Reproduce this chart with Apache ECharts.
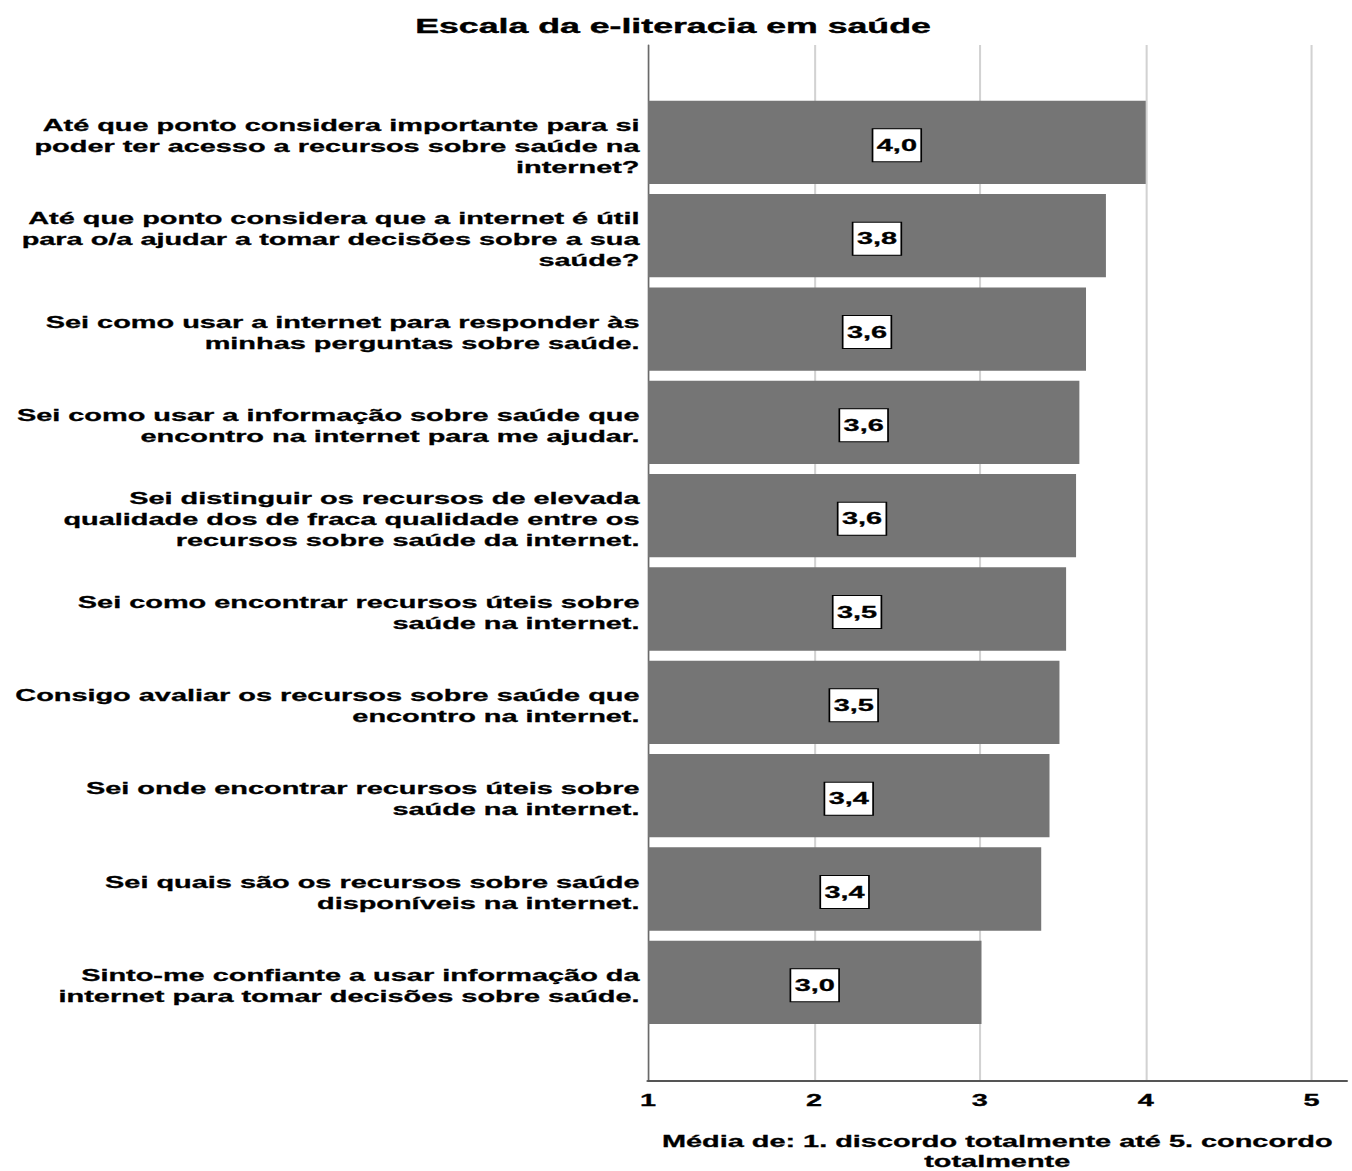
<!DOCTYPE html>
<html>
<head>
<meta charset="utf-8">
<script src="https://cdn.jsdelivr.net/npm/echarts@6/dist/echarts.min.js"></script>
<style>
html, body { margin: 0; padding: 0; background: #fff; overflow: hidden; }
#wrap { width: 1352px; height: 1171px; overflow: hidden; position: relative; }
#chart { position: absolute; left: 0; top: 0; height: 1171px; transform-origin: 0 0; }
</style>
</head>
<body>
<div id="wrap"><div id="chart"></div></div>
<script>
const chartTitle = 'Escala da e-literacia em saúde';
const axisTitle = 'Média de: 1. discordo totalmente até 5. concordo\ntotalmente';
const categories = [
  'Até que ponto considera importante para si\npoder ter acesso a recursos sobre saúde na\ninternet?',
  'Até que ponto considera que a internet é útil\npara o/a ajudar a tomar decisões sobre a sua\nsaúde?',
  'Sei como usar a internet para responder às\nminhas perguntas sobre saúde.',
  'Sei como usar a informação sobre saúde que\nencontro na internet para me ajudar.',
  'Sei distinguir os recursos de elevada\nqualidade dos de fraca qualidade entre os\nrecursos sobre saúde da internet.',
  'Sei como encontrar recursos úteis sobre\nsaúde na internet.',
  'Consigo avaliar os recursos sobre saúde que\nencontro na internet.',
  'Sei onde encontrar recursos úteis sobre\nsaúde na internet.',
  'Sei quais são os recursos sobre saúde\ndisponíveis na internet.',
  'Sinto-me confiante a usar informação da\ninternet para tomar decisões sobre saúde.'
];
const means = [4.00, 3.76, 3.64, 3.60, 3.58, 3.52, 3.48, 3.42, 3.37, 3.01];
const axisMin = 1;
const axisMax = 5.21;
const axisInterval = 1;

// The reference picture is horizontally stretched; reproduce via a horizontal scale.
const S = 1.7;
const el = document.getElementById('chart');
const W = 1352 / S;
el.style.width = W + 'px';
el.style.transform = 'scaleX(' + S + ')';

const font = 'Liberation Sans, Arial, sans-serif';
const px = v => v / S;
const gl = px(648), gr = W - px(1347);
const labelShift = 3.5;

const chart = echarts.init(el, null, { renderer: 'svg' });
chart.setOption({
  animation: false,
  backgroundColor: '#ffffff',
  title: {
    text: chartTitle,
    left: px(673),
    textAlign: 'center',
    top: 15,
    padding: 0,
    textStyle: { fontFamily: font, fontWeight: 'bold', fontSize: 21, color: '#000',
                 textBorderColor: '#000', textBorderWidth: 0.4 }
  },
  grid: [
    { left: gl, right: gr, top: 45, bottom: 1171 - 1080.7, containLabel: false, outerBoundsMode: 'none' },
    { left: gl, right: gr, top: 95.7, bottom: 1171 - 1029, containLabel: false, outerBoundsMode: 'none' },
    { left: gl, right: gr, top: 95.7 + labelShift, bottom: 1171 - 1029 - labelShift, containLabel: false, outerBoundsMode: 'none' }
  ],
  xAxis: [
    {
      gridIndex: 0, type: 'value', min: axisMin, max: axisMax, interval: axisInterval,
      axisLine: { show: true, onZero: false, lineStyle: { color: '#555', width: 2 } },
      axisTick: { show: false },
      splitLine: { show: true, showMinLine: false, showMaxLine: false, lineStyle: { color: '#d2d2d2', width: 1.2 } },
      axisLabel: {
        margin: 11, fontFamily: font, fontWeight: 'bold', fontSize: 17, color: '#000',
        textBorderColor: '#000', textBorderWidth: 0.3,
        formatter: v => (Math.abs(v - Math.round(v)) < 1e-9 ? String(Math.round(v)) : '')
      },
      name: axisTitle,
      nameLocation: 'middle',
      nameGap: 51,
      nameTextStyle: { fontFamily: font, fontWeight: 'bold', fontSize: 17, lineHeight: 19.5, color: '#000',
                       align: 'center', verticalAlign: 'top', textBorderColor: '#000', textBorderWidth: 0.3 }
    },
    { gridIndex: 1, type: 'value', min: axisMin, max: axisMax, interval: axisInterval, show: false },
    { gridIndex: 2, type: 'value', min: axisMin, max: axisMax, interval: axisInterval, show: false }
  ],
  yAxis: [
    {
      gridIndex: 0, type: 'value', min: 0, max: 1,
      axisLine: { show: true, onZero: false, lineStyle: { color: '#6a6a6a', width: 1 } },
      axisTick: { show: false }, axisLabel: { show: false }, splitLine: { show: false }
    },
    {
      gridIndex: 1, type: 'category', inverse: true, data: categories,
      axisLine: { show: false }, axisTick: { show: false }, splitLine: { show: false },
      axisLabel: { show: false }
    },
    {
      gridIndex: 2, type: 'category', inverse: true, data: categories,
      axisLine: { show: false }, axisTick: { show: false }, splitLine: { show: false },
      axisLabel: {
        margin: 5, fontFamily: font, fontWeight: 'bold', fontSize: 17, lineHeight: 21,
        color: '#000', align: 'right',
        textBorderColor: '#000', textBorderWidth: 0.3
      }
    }
  ],
  series: [
    {
      type: 'bar', xAxisIndex: 1, yAxisIndex: 1, data: means,
      barWidth: 83.3,
      itemStyle: { color: '#757575' },
      label: {
        show: true, position: 'inside', offset: [0, 3],
        formatter: p => p.value.toFixed(1).replace('.', ','),
        fontFamily: font, fontWeight: 'bold', fontSize: 17, lineHeight: 18, color: '#000',
        textBorderColor: '#000', textBorderWidth: 0.3,
        backgroundColor: '#fff', borderColor: '#000', borderWidth: 1, padding: [7, 2, 7, 2]
      }
    }
  ]
});
</script>
</body>
</html>
